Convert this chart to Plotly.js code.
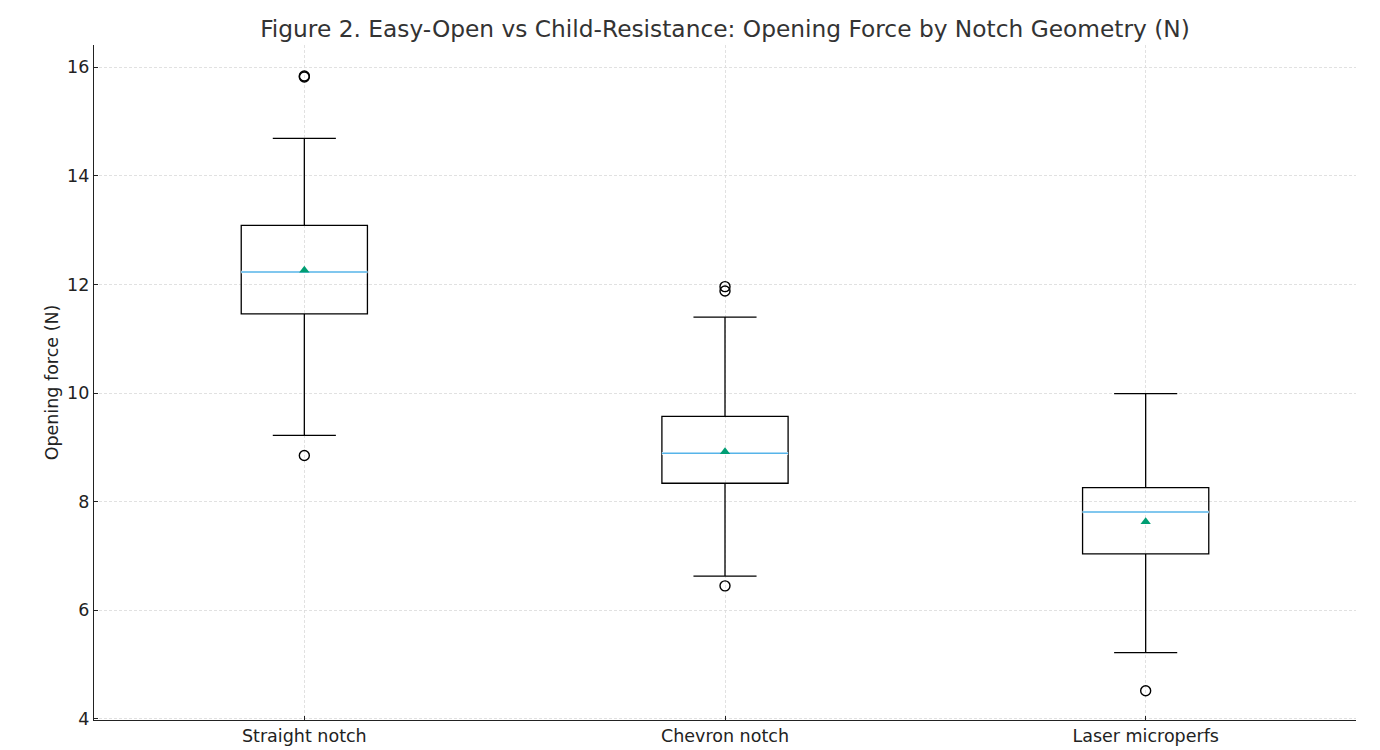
<!DOCTYPE html>
<html>
<head>
<meta charset="utf-8">
<script src="https://cdn.plot.ly/plotly-3.0.1.min.js"></script>
<style>html,body{margin:0;padding:0;background:#fff;}#chart{width:1380px;height:750px;}</style>
</head>
<body>
<div id="chart"></div>
<script>
// Data
const categories = ["Straight notch", "Chevron notch", "Laser microperfs"];
const q1Values = [11.46, 8.34, 7.04];
const medianValues = [12.23, 8.89, 7.81];
const q3Values = [13.09, 9.57, 8.26];
const lowerWhisker = [9.22, 6.63, 5.22];
const upperWhisker = [14.69, 11.40, 9.99];
const meanValues = [12.26, 8.92, 7.63];
const outliers = [
  [15.84, 15.82, 8.85],
  [11.96, 11.88, 6.45],
  [4.52]
];
const yTicks = [4, 6, 8, 10, 12, 14, 16];

const positions = categories.map((c, i) => i);
const boxWidth = 0.3;

const boxTrace = {
  type: "box",
  x: positions,
  q1: q1Values,
  median: medianValues,
  q3: q3Values,
  lowerfence: lowerWhisker,
  upperfence: upperWhisker,
  width: boxWidth,
  whiskerwidth: 0.5,
  boxpoints: false,
  line: {color: "#000000", width: 1.3},
  fillcolor: "rgba(255,255,255,0)",
  hoverinfo: "skip",
  showlegend: false
};

const medX = [], medY = [];
positions.forEach((p, i) => {
  medX.push(p - boxWidth / 2, p + boxWidth / 2, null);
  medY.push(medianValues[i], medianValues[i], null);
});
const medianTrace = {
  type: "scatter", mode: "lines",
  x: medX, y: medY,
  line: {color: "#ffffff", width: 2.6},
  hoverinfo: "skip", showlegend: false
};
const medianTrace2 = {
  type: "scatter", mode: "lines",
  x: medX, y: medY,
  line: {color: "#56B4E9", width: 1.5},
  hoverinfo: "skip", showlegend: false
};

const meanTrace = {
  type: "scatter", mode: "markers",
  x: positions, y: meanValues,
  marker: {symbol: "triangle-up", size: 9, color: "#009E73"},
  showlegend: false
};

const outX = [], outY = [];
outliers.forEach((arr, i) => arr.forEach(v => { outX.push(positions[i]); outY.push(v); }));
const outlierTrace = {
  type: "scatter", mode: "markers",
  x: outX, y: outY,
  marker: {symbol: "circle-open", size: 10, color: "#000000", line: {width: 1.4, color: "#000000"}},
  showlegend: false
};

const font = "DejaVu Sans, Liberation Sans, sans-serif";
const layout = {
  width: 1380, height: 750,
  paper_bgcolor: "#ffffff", plot_bgcolor: "#ffffff",
  margin: {l: 94, r: 24, t: 45, b: 30},
  font: {family: font, size: 17, color: "#222222"},
  title: {
    text: "Figure 2. Easy-Open vs Child-Resistance: Opening Force by Notch Geometry (N)",
    font: {family: font, size: 23.3, color: "#333333"},
    x: 0.5, xref: "paper", y: 1 - 29 / 750, yref: "container", yanchor: "middle"
  },
  xaxis: {
    range: [-0.5, 2.5],
    tickmode: "array", tickvals: positions, ticktext: categories,
    showgrid: true, gridcolor: "#dadada", griddash: "3px,2px", gridwidth: 0.8,
    zeroline: false,
    showline: true, linecolor: "#222222", linewidth: 1.2,
    ticks: "inside", ticklen: 4, tickcolor: "#222222",
    tickfont: {family: font, size: 17.5, color: "#222222"}
  },
  yaxis: {
    range: [3.98, 16.41],
    tickmode: "array", tickvals: yTicks,
    showgrid: true, gridcolor: "#dadada", griddash: "3px,2px", gridwidth: 0.8,
    zeroline: false,
    showline: true, linecolor: "#222222", linewidth: 1.2,
    ticks: "inside", ticklen: 4, tickcolor: "#222222",
    tickfont: {family: font, size: 17.5, color: "#222222"},
    title: {text: "Opening force (N)", font: {family: font, size: 17.5, color: "#222222"}, standoff: 3}
  }
};

Plotly.newPlot("chart", [boxTrace, medianTrace, medianTrace2, meanTrace, outlierTrace], layout, {displayModeBar: false, staticPlot: true});
</script>
</body>
</html>
